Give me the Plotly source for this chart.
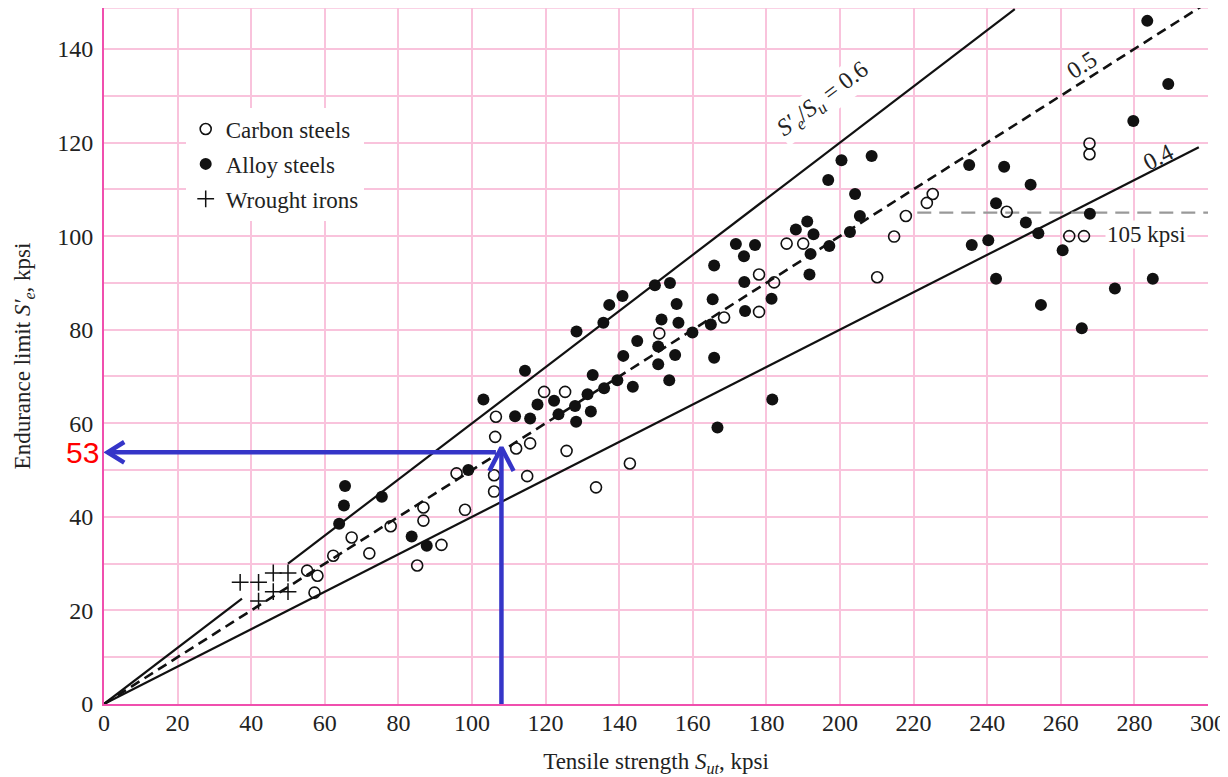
import plotly.graph_objects as go

# ---------------- data ----------------
carbon_x = [55.2, 58.0, 57.2, 62.3, 67.3, 72.1, 77.9, 86.8, 86.8, 85.1, 91.7, 95.8, 98.1,
            106.5, 106.3, 112.0, 115.8, 119.6, 125.3, 125.7, 106.0, 106.0, 115.0, 133.7, 142.9, 150.9,
            168.5, 178.0, 182.1, 178.0, 185.5, 190.0, 210.1, 214.7, 217.9, 223.6, 225.2, 245.3,
            262.3, 266.3, 267.8, 267.8]
carbon_y = [28.5, 27.4, 23.8, 31.7, 35.6, 32.2, 38.0, 42.0, 39.2, 29.6, 34.0, 49.3, 41.5,
            61.4, 57.1, 54.6, 55.7, 66.7, 66.7, 54.1, 48.9, 45.4, 48.7, 46.3, 51.4, 79.2,
            82.6, 91.8, 90.1, 83.8, 98.4, 98.4, 91.2, 99.9, 104.3, 107.1, 109.0, 105.2,
            100.0, 100.0, 119.8, 117.5]

alloy_x = [65.5, 65.2, 63.9, 75.5, 83.6, 87.7, 99.0,
           103.1, 114.4, 128.4, 135.7, 137.3, 140.9, 149.7, 153.8, 155.6, 151.5, 156.1, 144.9,
           141.1, 150.6, 155.2, 150.6, 153.6, 132.8, 139.5, 135.9, 143.7, 131.4, 132.3, 128.3,
           128.0, 123.5, 122.3, 117.8, 115.8, 111.7,
           159.9, 164.9, 165.8, 165.4, 165.8, 166.7, 171.7, 176.9, 173.9, 174.0, 174.2, 181.4,
           181.6, 188.0, 191.1, 192.8, 192.0, 191.7, 197.1, 202.7, 205.4, 204.1, 196.8, 200.4, 208.6,
           235.1, 244.6, 251.8, 242.4, 250.5, 253.9, 267.9, 260.5, 235.8, 240.3, 242.4, 254.6,
           265.7, 274.7, 285.0, 279.7, 289.2, 283.5]
alloy_y = [46.6, 42.4, 38.5, 44.3, 35.8, 33.8, 50.0,
           65.1, 71.2, 79.6, 81.5, 85.3, 87.2, 89.5, 90.0, 85.5, 82.2, 81.5, 77.6,
           74.4, 76.4, 74.6, 72.6, 69.2, 70.3, 69.2, 67.5, 67.8, 66.2, 62.5, 60.3,
           63.7, 61.9, 64.8, 64.0, 61.0, 61.5,
           79.4, 81.1, 93.7, 86.5, 74.0, 59.1, 98.3, 98.1, 95.7, 90.2, 84.0, 86.6,
           65.1, 101.4, 103.1, 100.4, 96.2, 91.8, 97.9, 100.9, 104.3, 109.0, 112.0, 116.2, 117.1,
           115.2, 114.8, 111.0, 107.0, 102.9, 100.6, 104.8, 97.0, 98.1, 99.1, 90.9, 85.3,
           80.3, 88.8, 90.9, 124.6, 132.5, 146.0]

wrought_x = [37, 42, 46, 50, 42, 46, 50]
wrought_y = [26, 26, 28, 28, 22, 24, 24]

series_names = ["Carbon steels", "Alloy steels", "Wrought irons"]

# ratio lines S'e / Su
ratio_06 = 0.6
ratio_05 = 0.5
ratio_04 = 0.4
line06_x = [0, 37.5, None, 50, 247.5]
line05_x = [0, 300]
line04_x = [0, 297.5]

limit_value = 105
limit_x = [221, 300]
limit_label = "105 kpsi"

# reading arrows
su_read = 108
se_read = 53.8
se_label = "53"

x_ticks = list(range(0, 301, 20))
y_ticks = list(range(0, 141, 20))
y_max = 148.75

# ---------------- figure ----------------
SERIF = "Liberation Serif, Times New Roman, serif"
GRID = "#f9c3dc"
AXIS = "#f04fae"
BLUE = "#3535c8"

fig = go.Figure()

def ry(r, xs):
    return [None if v is None else r * v for v in xs]

fig.add_trace(go.Scatter(x=line06_x, y=ry(ratio_06, line06_x), mode="lines",
                         line=dict(color="#111", width=2.2), showlegend=False, hoverinfo="skip"))
fig.add_trace(go.Scatter(x=line05_x, y=ry(ratio_05, line05_x), mode="lines",
                         line=dict(color="#111", width=2.6, dash="10px,6px"), showlegend=False, hoverinfo="skip"))
fig.add_trace(go.Scatter(x=line04_x, y=ry(ratio_04, line04_x), mode="lines",
                         line=dict(color="#111", width=2.2), showlegend=False, hoverinfo="skip"))
fig.add_trace(go.Scatter(x=limit_x, y=[limit_value, limit_value], mode="lines",
                         line=dict(color="#999", width=2.2, dash="14px,8px"), showlegend=False, hoverinfo="skip"))

fig.add_trace(go.Scatter(x=carbon_x, y=carbon_y, mode="markers", name=series_names[0],
                         legendgroup="c",
                         marker=dict(symbol="circle-open", size=11, color="#111",
                                     line=dict(width=1.6, color="#111"))))
fig.add_trace(go.Scatter(x=alloy_x, y=alloy_y, mode="markers", name=series_names[1],
                         legendgroup="a",
                         marker=dict(symbol="circle", size=12, color="#111")))
fig.add_trace(go.Scatter(x=wrought_x, y=wrought_y, mode="markers", name=series_names[2],
                         legendgroup="w",
                         marker=dict(symbol="cross-thin", size=12, color="#111",
                                     line=dict(width=1.5, color="#111"))))

# blue reading arrows
ah_dx, ah_dy = 3.3, 5.0
fig.add_trace(go.Scatter(x=[su_read, su_read], y=[0, se_read + 1.0], mode="lines",
                         line=dict(color=BLUE, width=4.5), showlegend=False, hoverinfo="skip"))
fig.add_trace(go.Scatter(x=[su_read - ah_dx, su_read, su_read + ah_dx],
                         y=[se_read + 1.0 - ah_dy, se_read + 1.0, se_read + 1.0 - ah_dy],
                         mode="lines", line=dict(color=BLUE, width=4.5), showlegend=False, hoverinfo="skip"))
fig.add_trace(go.Scatter(x=[su_read - 1.5, 1.0], y=[se_read, se_read], mode="lines",
                         line=dict(color=BLUE, width=4.5), showlegend=False, hoverinfo="skip"))
fig.add_trace(go.Scatter(x=[1.0 + 4.5, 1.0, 1.0 + 4.5],
                         y=[se_read + 2.2, se_read, se_read - 2.2],
                         mode="lines", line=dict(color=BLUE, width=4.5), showlegend=False, hoverinfo="skip"))

ann_font = dict(family=SERIF, size=24, color="#222")
fig.add_annotation(x=195.5, y=129, xref="x", yref="y",
                   text="<i>S′<sub>e</sub></i>/<i>S<sub>u</sub></i> = 0.6",
                   textangle=-37, showarrow=False, bgcolor="white", font=ann_font)
fig.add_annotation(x=265.7, y=136.5, text="0.5", textangle=-33, showarrow=False, font=ann_font)
fig.add_annotation(x=286.5, y=117.0, text="0.4", textangle=-27, showarrow=False, font=ann_font)
fig.add_annotation(x=283.3, y=100.4, text=limit_label, showarrow=False, bgcolor="white",
                   font=dict(family=SERIF, size=23, color="#222"))
fig.add_annotation(x=0, y=se_read, text=se_label, showarrow=False, xanchor="right", xshift=-3,
                   font=dict(family="Liberation Sans, Arial, sans-serif", size=30, color="#ff0000"))

# top border of the plotting frame (light pink like the grid)
fig.add_shape(type="line", xref="paper", yref="paper", x0=0, x1=1, y0=1, y1=1,
              line=dict(color=GRID, width=1.5), layer="below")

fig.update_layout(
    width=1220, height=769,
    margin=dict(l=96, r=20, t=0, b=73),
    paper_bgcolor="white", plot_bgcolor="white",
    font=dict(family=SERIF, size=24, color="#222"),
    legend=dict(x=0.074, y=0.857, xanchor="left", yanchor="top", bgcolor="white",
                borderwidth=0, tracegroupgap=2, font=dict(family=SERIF, size=23, color="#222")),
    xaxis=dict(range=[0, 300], tickvals=x_ticks, showgrid=True, gridcolor=GRID, gridwidth=1.5,
               showline=True, linecolor=AXIS, linewidth=2, zeroline=False, ticks="",
               ticklabelstandoff=-4, ticklabeloverflow="allow",
               title=dict(text="Tensile strength <i>S<sub>ut</sub></i>, kpsi", standoff=18,
                          font=dict(family=SERIF, size=23, color="#222"))),
    yaxis=dict(range=[0, y_max], tickvals=y_ticks, showgrid=True, gridcolor=GRID, gridwidth=1.5,
               showline=True, linecolor=AXIS, linewidth=2, zeroline=False, ticks="",
               ticklabelstandoff=4,
               title=dict(text="Endurance limit <i>S′<sub>e</sub></i>, kpsi", standoff=20,
                          font=dict(family=SERIF, size=23, color="#222"))),
)
# horizontal grid every 10 via minor grid
fig.update_yaxes(minor=dict(dtick=10, tick0=0, showgrid=True, gridcolor=GRID, gridwidth=1.5))

fig.write_html("out.html")
